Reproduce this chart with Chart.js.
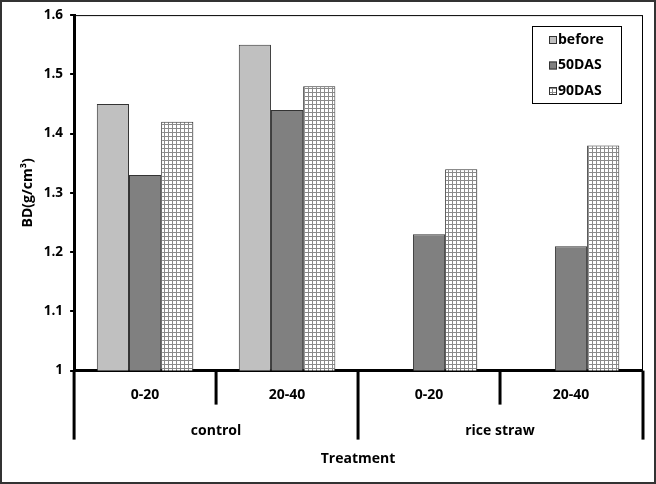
<!DOCTYPE html>
<html>
<head>
<meta charset="utf-8">
<script src="https://cdn.jsdelivr.net/npm/chart.js@4"></script>
<style>
  html, body { margin: 0; padding: 0; background: #fff; }
  #wrap { width: 656px; height: 484px; }
</style>
</head>
<body>
<div id="wrap"><canvas id="myChart" width="656" height="484"></canvas></div>
<script>
const depths = ['0-20', '20-40', '0-20', '20-40'];
const groups = ['control', 'rice straw'];
const before = [1.45, 1.55, null, null];
const das50 = [1.33, 1.44, 1.23, 1.21];
const das90 = [1.42, 1.48, 1.34, 1.38];
const yTicks = [1, 1.1, 1.2, 1.3, 1.4, 1.5, 1.6];

const FONT = "'Open Sans', 'Noto Sans', sans-serif";

// small grid pattern for 90DAS
function gridPattern() {
    const c = document.createElement('canvas');
    c.width = 4; c.height = 4;
    const g = c.getContext('2d');
    g.fillStyle = '#fff';
    g.fillRect(0, 0, 4, 4);
    g.fillStyle = '#8a8a8a';
    g.fillRect(0, 0, 4, 1);
    g.fillRect(0, 0, 1, 4);
    return g.createPattern(c, 'repeat');
}

const data = [
    { label: 'before', data: before, backgroundColor: '#c0c0c0', borderColor: '#333', borderWidth: 1 },
    { label: '50DAS', data: das50, backgroundColor: '#808080', borderColor: '#333', borderWidth: 1 },
    { label: '90DAS', data: das90, backgroundColor: gridPattern(), borderColor: '#333', borderWidth: 1 }
];

const frame = {
    id: 'frame',
    beforeDatasetsDraw(chart) {
        const { ctx, chartArea: a } = chart;
        ctx.save();
        ctx.strokeStyle = '#000';
        ctx.lineWidth = 1;
        ctx.strokeRect(a.left + 0.5, a.top + 0.5, a.right - a.left, a.bottom - a.top);
        ctx.restore();
    },
    afterDraw(chart) {
        const ctx = chart.ctx;
        const a = chart.chartArea;
        const xs = chart.scales.x;
        ctx.save();
        // category separators (short between depths, long between groups)
        ctx.strokeStyle = '#000';
        ctx.lineWidth = 3;
        for (let i = 0; i <= depths.length; i++) {
            let px;
            if (i === 0) px = a.left;
            else if (i === depths.length) px = a.right + 1;
            else px = (xs.getPixelForValue(i - 1) + xs.getPixelForValue(i)) / 2;
            const long = i % 2 === 0;
            ctx.beginPath();
            ctx.moveTo(px, a.bottom);
            ctx.lineTo(px, long ? a.bottom + 69 : a.bottom + 34);
            ctx.stroke();
        }
        // outer border
        ctx.strokeStyle = '#333';
        ctx.lineWidth = 2;
        ctx.strokeRect(1, 1, chart.width - 2, chart.height - 2);
        // legend box
        const bx = 532, by = 26, bw = 89, bh = 77;
        ctx.fillStyle = '#fff';
        ctx.fillRect(bx, by, bw, bh);
        ctx.strokeStyle = '#000';
        ctx.lineWidth = 1;
        ctx.strokeRect(bx + 0.5, by + 0.5, bw, bh);
        ctx.font = 'bold 14px ' + FONT;
        ctx.textBaseline = 'middle';
        ctx.textAlign = 'left';
        chart.data.datasets.forEach((ds, i) => {
            const cy = 40 + i * 25.5;
            ctx.fillStyle = ds.backgroundColor;
            ctx.fillRect(549, cy - 4, 8, 8);
            ctx.strokeStyle = '#333';
            ctx.strokeRect(549.5, cy - 3.5, 7, 7);
            ctx.fillStyle = '#000';
            ctx.fillText(ds.label, 558, cy);
        });
        ctx.restore();
    }
};

const ctx = document.getElementById('myChart').getContext('2d');
const myChart = new Chart(ctx, {
    type: 'bar',
    data: {
        labels: depths,
        datasets: data
    },
    plugins: [frame],
    options: {
        responsive: false,
        animation: false,
        datasets: {
            bar: { categoryPercentage: 0.68, barPercentage: 1 }
        },
        layout: {
            padding: { top: 15, right: 14, left: 12, bottom: 17 }
        },
        plugins: {
            legend: { display: false },
            tooltip: { enabled: false }
        },
        scales: {
            x: {
                weight: 0,
                grid: { display: false, drawTicks: false },
                border: { color: '#000', width: 3 },
                ticks: { color: '#000', padding: 16, font: { family: FONT, size: 14, weight: 'bold' } }
            },
            x2: {
                type: 'category',
                labels: groups,
                position: 'bottom',
                offset: true,
                weight: 1,
                grid: { display: false, drawTicks: false },
                border: { display: false },
                ticks: { color: '#000', padding: 3, font: { family: FONT, size: 14, weight: 'bold' } },
                title: {
                    display: true,
                    text: 'Treatment',
                    color: '#000',
                    padding: { top: 8, bottom: 0 },
                    font: { family: FONT, size: 14, weight: 'bold' }
                }
            },
            y: {
                min: 1,
                max: 1.6,
                afterBuildTicks(scale) {
                    scale.ticks = yTicks.map(v => ({ value: v }));
                },
                grid: { drawOnChartArea: false, tickLength: 4, color: '#000', lineWidth: 2 },
                border: { color: '#000', width: 3 },
                ticks: {
                    color: '#000',
                    padding: 7,
                    font: { family: FONT, size: 13.5, weight: 'bold' },
                    callback: v => String(+v.toFixed(1))
                },
                title: {
                    display: true,
                    text: 'BD(g/cm³)',
                    color: '#000',
                    padding: { top: 8, bottom: 0 },
                    font: { family: FONT, size: 14, weight: 'bold' }
                }
            }
        }
    }
});
</script>
</body>
</html>
